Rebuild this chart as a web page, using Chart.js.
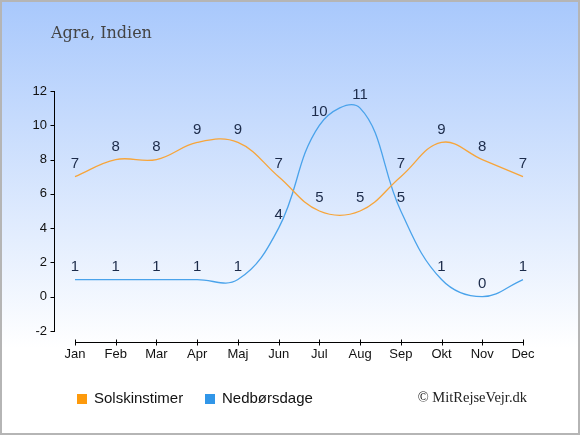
<!DOCTYPE html>
<html><head><meta charset="utf-8">
<script src="https://cdn.jsdelivr.net/npm/chart.js@4.4.1/dist/chart.umd.min.js"></script>
<style>html,body{margin:0;padding:0;background:#fff}canvas{display:block}</style>
</head><body>
<canvas id="c" width="580" height="435"></canvas>
<script>
const months = ['Jan','Feb','Mar','Apr','Maj','Jun','Jul','Aug','Sep','Okt','Nov','Dec'];
const sunHours = [7,8,8,9,9,7,5,5,7,9,8,7];
const rainDays = [1,1,1,1,1,4,10,11,5,1,0,1];
const seriesNames = ['Solskinstimer','Nedbørsdage'];
const titleText = 'Agra, Indien';
const creditText = '© MitRejseVejr.dk';

const lineColors = ['#f7a53a','#4aa3eb'];
const boxColors = ['#fd9a0c','#3196e8'];

const bgPlugin = {
  id:'bg',
  beforeDraw(chart){
    const {ctx,width,height} = chart;
    ctx.save();
    const g = ctx.createLinearGradient(0,0,0,height);
    g.addColorStop(0,'#a8c8fc');
    g.addColorStop(0.8,'#ffffff');
    ctx.fillStyle = g;
    ctx.fillRect(0,0,width,height);
    ctx.strokeStyle = '#b5b5b5';
    ctx.lineWidth = 2;
    ctx.strokeRect(1,1,width-2,height-2);
    ctx.restore();
  }
};

const axesPlugin = {
  id:'axes',
  afterDraw(chart){
    const {ctx, chartArea:a, scales:{x,y}} = chart;
    ctx.save();
    ctx.strokeStyle = '#000';
    ctx.lineWidth = 1;
    ctx.beginPath();
    const ax = Math.round(a.left-21)+0.5;
    ctx.moveTo(ax, Math.round(y.getPixelForValue(y.max)));
    ctx.lineTo(ax, Math.round(y.getPixelForValue(y.min))+1);
    y.ticks.forEach(t=>{
      const py = Math.round(y.getPixelForValue(t.value))+0.5;
      ctx.moveTo(ax-4,py); ctx.lineTo(ax,py);
    });
    const by = Math.round(a.bottom+11)+0.5;
    ctx.moveTo(Math.round(x.getPixelForValue(0)), by);
    ctx.lineTo(Math.round(x.getPixelForValue(months.length-1))+1, by);
    months.forEach((m,i)=>{
      const px = Math.round(x.getPixelForValue(i))+0.5;
      ctx.moveTo(px,by-3); ctx.lineTo(px,by+3);
    });
    ctx.stroke();

    // title
    ctx.fillStyle = '#444';
    ctx.font = '16px "DejaVu Serif", serif';
    ctx.textAlign = 'left';
    ctx.textBaseline = 'alphabetic';
    ctx.fillText(titleText, 51, 38);

    // legend
    const legX = [77,205];
    chart.data.datasets.forEach((ds,i)=>{
      ctx.fillStyle = boxColors[i];
      ctx.fillRect(legX[i],394,10,10);
      ctx.fillStyle = '#111';
      ctx.font = '15px "Liberation Sans", Arial, sans-serif';
      ctx.textBaseline = 'middle';
      ctx.fillText(ds.label, legX[i]+17, 398.5);
    });

    // credit
    ctx.fillStyle = '#222';
    ctx.font = '14.5px "Liberation Serif", serif';
    ctx.textAlign = 'right';
    ctx.textBaseline = 'alphabetic';
    ctx.fillText(creditText, 527, 402);
    ctx.restore();
  }
};

const labelPlugin = {
  id:'vlabels',
  afterDatasetsDraw(chart){
    const {ctx} = chart;
    ctx.save();
    ctx.fillStyle = '#1c2b4a';
    ctx.font = '15px "Liberation Sans", Arial, sans-serif';
    ctx.textAlign = 'center';
    ctx.textBaseline = 'middle';
    chart.data.datasets.forEach((ds,i)=>{
      chart.getDatasetMeta(i).data.forEach((pt,j)=>{
        ctx.fillText(String(ds.data[j]), pt.x, pt.y-13);
      });
    });
    ctx.restore();
  }
};

new Chart(document.getElementById('c'), {
  type:'line',
  data:{
    labels: months,
    datasets:[
      {label:seriesNames[0], data:sunHours, borderColor:lineColors[0], backgroundColor:lineColors[0], borderWidth:1.3, pointRadius:0, tension:0.4, fill:false, clip:false},
      {label:seriesNames[1], data:rainDays, borderColor:lineColors[1], backgroundColor:lineColors[1], borderWidth:1.3, pointRadius:0, tension:0.4, fill:false, clip:false}
    ]
  },
  options:{
    responsive:false,
    animation:false,
    devicePixelRatio:1,
    layout:{padding:{left:0,right:57,top:91,bottom:74}},
    plugins:{legend:{display:false}, title:{display:false}, tooltip:{enabled:false}},
    scales:{
      x:{
        offset:false,
        grid:{display:false, drawTicks:false},
        border:{display:false},
        ticks:{autoSkip:false, maxRotation:0, padding:16, color:'#111', font:{family:'"Liberation Sans", Arial, sans-serif', size:13}},
        afterFit(s){ s.height = 30; }
      },
      y:{
        min:-2, max:12,
        grid:{display:false, drawTicks:false},
        border:{display:false},
        ticks:{stepSize:2, padding:28, color:'#111', font:{family:'"Liberation Sans", Arial, sans-serif', size:13}},
        afterFit(s){ s.width = 75; }
      }
    }
  },
  plugins:[bgPlugin, labelPlugin, axesPlugin]
});
</script>
</body></html>
